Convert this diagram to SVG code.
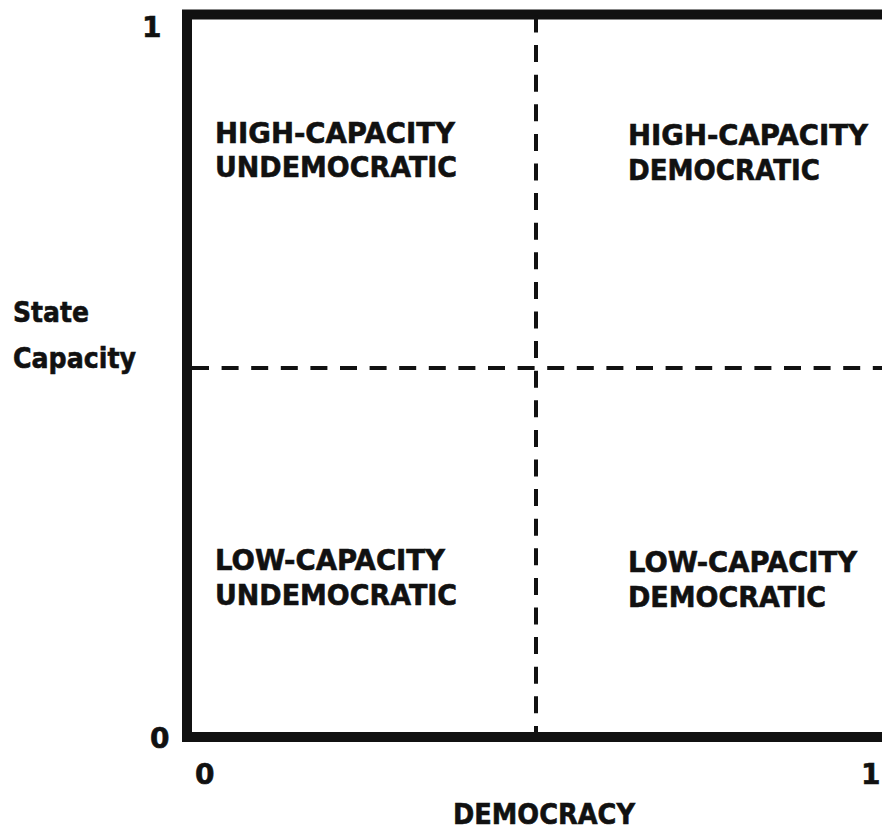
<svg xmlns="http://www.w3.org/2000/svg" width="882" height="830" viewBox="0 0 882 830">
<style>
.t{font-family:"DejaVu Sans","Liberation Sans",sans-serif;font-weight:bold;font-size:28px;fill:#111;stroke:#111;stroke-width:0.6}
.dash{stroke:#111;stroke-width:4;fill:none;stroke-dasharray:17 12.6}
</style>
<rect x="0" y="0" width="882" height="830" fill="#fff"/>
<g id="frame"><rect x="187" y="14.5" width="740" height="722.5" fill="none" stroke="#111" stroke-width="10"/></g>
<g id="connectors">
<line class="dash" x1="536" y1="15.5" x2="536" y2="733"/>
<line class="dash" x1="192" y1="368" x2="882" y2="368"/>
</g>
<g id="q-hu"><text class="t" x="215" y="143" textLength="240" lengthAdjust="spacingAndGlyphs">HIGH-CAPACITY</text><text class="t" x="215" y="177" textLength="242" lengthAdjust="spacingAndGlyphs">UNDEMOCRATIC</text></g>
<g id="q-hd"><text class="t" x="628" y="145" textLength="240" lengthAdjust="spacingAndGlyphs">HIGH-CAPACITY</text><text class="t" x="628" y="180" textLength="192" lengthAdjust="spacingAndGlyphs">DEMOCRATIC</text></g>
<g id="q-lu"><text class="t" x="215" y="570" textLength="230" lengthAdjust="spacingAndGlyphs">LOW-CAPACITY</text><text class="t" x="215" y="605" textLength="242" lengthAdjust="spacingAndGlyphs">UNDEMOCRATIC</text></g>
<g id="q-ld"><text class="t" x="628" y="572" textLength="229" lengthAdjust="spacingAndGlyphs">LOW-CAPACITY</text><text class="t" x="628" y="607" textLength="198" lengthAdjust="spacingAndGlyphs">DEMOCRATIC</text></g>
<g id="axes">
<text class="t" x="142" y="37">1</text>
<text class="t" x="150" y="748">0</text>
<text class="t" x="195" y="784">0</text>
<text class="t" x="861" y="784">1</text>
<text class="t" x="13" y="322" textLength="76" lengthAdjust="spacingAndGlyphs">State</text>
<text class="t" x="13" y="368" textLength="123" lengthAdjust="spacingAndGlyphs">Capacity</text>
<text class="t" x="453" y="824" textLength="182" lengthAdjust="spacingAndGlyphs">DEMOCRACY</text>
</g>
</svg>
